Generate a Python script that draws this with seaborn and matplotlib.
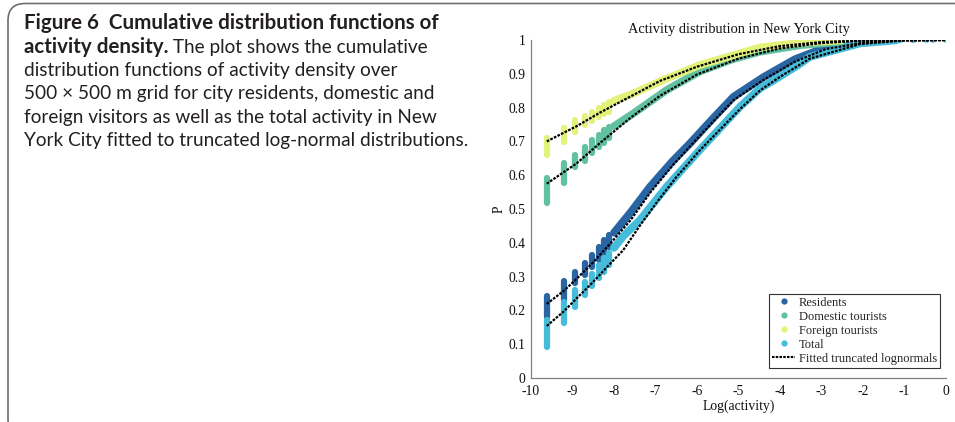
import numpy as np
import pandas as pd
import matplotlib
matplotlib.use("Agg")
import matplotlib.pyplot as plt
import seaborn as sns
from matplotlib.lines import Line2D
from matplotlib.patches import FancyBboxPatch
from matplotlib.transforms import IdentityTransform

# ---------------- data ----------------
SERIES = ["Residents", "Domestic tourists", "Foreign tourists", "Total"]
COLORS = ["#2a65a3", "#62c1a1", "#e3f27a", "#45bcd9"]

# discrete columns of the empirical CDFs at low activity
COL_X = [-9.62, -9.21, -8.93, -8.70, -8.52, -8.37, -8.23, -8.11]
RES_COL_LO = [0.180, 0.231, 0.280, 0.305, 0.329, 0.349, 0.370, 0.388]
RES_COL_HI = [0.243, 0.288, 0.315, 0.341, 0.364, 0.388, 0.408, 0.423]
DOM_COL_LO = [0.517, 0.576, 0.623, 0.643, 0.665, 0.684, 0.694, 0.709]
DOM_COL_HI = [0.591, 0.635, 0.660, 0.684, 0.704, 0.719, 0.734, 0.743]
FOR_COL_LO = [0.660, 0.699, 0.729, 0.749, 0.759, 0.771, 0.781, 0.788]
FOR_COL_HI = [0.709, 0.741, 0.763, 0.775, 0.788, 0.798, 0.808, 0.817]
TOT_COL_LO = [0.093, 0.162, 0.211, 0.246, 0.271, 0.296, 0.314, 0.334]
TOT_COL_HI = [0.171, 0.226, 0.260, 0.285, 0.308, 0.334, 0.355, 0.371]

# dense part of the empirical CDFs
RES_X = [-8.00, -7.60, -7.13, -6.60, -6.17, -5.60, -5.12, -4.40, -4.00, -3.64, -2.90, -2.10, -1.50]
RES_P = [0.430, 0.490, 0.566, 0.640, 0.694, 0.770, 0.832, 0.890, 0.918, 0.943, 0.978, 0.995, 0.999]
DOM_X = [-8.00, -7.53, -6.73, -5.93, -5.20, -4.50, -3.50, -2.50, -1.80]
DOM_P = [0.745, 0.783, 0.852, 0.907, 0.941, 0.965, 0.985, 0.995, 0.999]
FOR_X = [-8.00, -7.53, -6.73, -5.93, -4.48, -3.50, -2.50]
FOR_P = [0.820, 0.842, 0.886, 0.926, 0.978, 0.992, 0.999]
TOT_X = [-8.00, -7.78, -7.37, -6.73, -5.93, -4.96, -4.48, -4.08, -3.56, -3.28, -2.07, -1.20]
TOT_P = [0.385, 0.419, 0.468, 0.566, 0.675, 0.803, 0.857, 0.886, 0.926, 0.950, 0.990, 0.999]

# sparse points in the upper tail
RES_TAIL_X = [-1.80, -1.60, -1.40]
RES_TAIL_P = [0.997, 0.998, 0.999]
DOM_TAIL_X = [-2.30, -2.00, -1.80]
DOM_TAIL_P = [0.998, 0.999, 0.999]
FOR_TAIL_X = [-2.60, -2.30]
FOR_TAIL_P = [0.999, 1.000]
TOT_TAIL_X = [-1.90, -1.60, -1.40, -1.25, -1.10, -0.79, -0.47, -0.31, 0.00]
TOT_TAIL_P = [0.996, 0.997, 0.998, 0.998, 0.999, 0.999, 1.000, 1.000, 1.000]

# fitted truncated lognormals
FIT_FOR_X = [-9.62, -8.90, -8.34, -7.60, -6.89, -6.00, -5.00, -4.00, -3.00, -2.00, 0.00]
FIT_FOR_P = [0.700, 0.745, 0.785, 0.833, 0.879, 0.921, 0.958, 0.982, 0.994, 0.999, 1.000]
FIT_DOM_X = [-9.62, -8.90, -8.34, -7.60, -6.89, -6.00, -5.00, -4.00, -3.00, -2.00, 0.00]
FIT_DOM_P = [0.575, 0.635, 0.695, 0.770, 0.835, 0.898, 0.945, 0.975, 0.991, 0.998, 1.000]
FIT_RES_X = [-9.62, -9.21, -8.93, -8.52, -8.11, -7.60, -7.13, -6.60, -6.17, -5.60, -5.12, -4.40, -3.64, -2.90, -2.00, -1.00, 0.00]
FIT_RES_P = [0.219, 0.258, 0.290, 0.340, 0.395, 0.467, 0.548, 0.627, 0.685, 0.760, 0.822, 0.882, 0.936, 0.973, 0.992, 0.999, 1.000]
FIT_TOT_X = [-9.62, -9.21, -8.93, -8.52, -8.11, -7.78, -7.37, -6.93, -6.50, -5.93, -4.96, -4.48, -4.00, -3.28, -2.07, -1.00, 0.00]
FIT_TOT_P = [0.154, 0.197, 0.232, 0.282, 0.336, 0.378, 0.452, 0.526, 0.594, 0.674, 0.796, 0.851, 0.891, 0.945, 0.988, 0.999, 1.000]

X_TICKS = list(range(-10, 1))
Y_TICKS = [0, 0.1, 0.2, 0.3, 0.4, 0.5, 0.6, 0.7, 0.8, 0.9, 1]
Y_TICKLABELS = ["0", "0.1", "0.2", "0.3", "0.4", "0.5", "0.6", "0.7", "0.8", "0.9", "1"]

CAPTION_BOLD_1 = "Figure 6  Cumulative distribution functions of"
CAPTION_BOLD_2 = "activity density."
CAPTION_REST_2 = " The plot shows the cumulative"
CAPTION_LINES = [
    "distribution functions of activity density over",
    "500 \u00d7 500 m grid for city residents, domestic and",
    "foreign visitors as well as the total activity in New",
    "York City fitted to truncated log-normal distributions.",
]

# ---------------- figure ----------------
sns.set_theme(style="white")
plt.rcParams["font.family"] = ["Liberation Serif", "DejaVu Serif"]

W, H = 955, 422
fig = plt.figure(figsize=(W / 100, H / 100), dpi=100)
fig.patch.set_facecolor("white")

# rounded frame around the whole figure panel
frame = FancyBboxPatch((8, -14), 1000, H - 3.5 + 14, boxstyle="round,pad=0,rounding_size=17",
                       transform=IdentityTransform(), fill=False, edgecolor="#6d6e71",
                       linewidth=1.2, figure=fig)
fig.patches.append(frame)

ax = fig.add_axes([531 / W, 1 - 378 / H, 415 / W, 338 / H])
ax.set_facecolor("white")

col_lo = [RES_COL_LO, DOM_COL_LO, FOR_COL_LO, TOT_COL_LO]
col_hi = [RES_COL_HI, DOM_COL_HI, FOR_COL_HI, TOT_COL_HI]
band_x = [RES_X, DOM_X, FOR_X, TOT_X]
band_p = [RES_P, DOM_P, FOR_P, TOT_P]
tail_x = [RES_TAIL_X, DOM_TAIL_X, FOR_TAIL_X, TOT_TAIL_X]
tail_p = [RES_TAIL_P, DOM_TAIL_P, FOR_TAIL_P, TOT_TAIL_P]

for i, c in enumerate(COLORS):
    lc = ax.vlines(COL_X, col_lo[i], col_hi[i], colors=c, linewidth=4.5, zorder=2 + i)
    lc.set_capstyle("round")
    df = pd.DataFrame({"x": band_x[i], "p": band_p[i]})
    sns.lineplot(data=df, x="x", y="p", ax=ax, color=c, linewidth=5.6, sort=False,
                 estimator=None, solid_capstyle="round", solid_joinstyle="round", zorder=2 + i)
    tdf = pd.DataFrame({"x": tail_x[i], "p": tail_p[i]})
    sns.scatterplot(data=tdf, x="x", y="p", ax=ax, color=c, s=16, edgecolor="none",
                    linewidth=0, zorder=2 + i)

fit_x = [FIT_RES_X, FIT_DOM_X, FIT_FOR_X, FIT_TOT_X]
fit_p = [FIT_RES_P, FIT_DOM_P, FIT_FOR_P, FIT_TOT_P]
for fx, fp in zip(fit_x, fit_p):
    ax.plot(fx, fp, color="black", linewidth=1.6, linestyle=(0, (1.2, 0.6)), zorder=10)

ax.set_xlim(-10, 0)
ax.set_ylim(0, 1)
ax.set_xticks(X_TICKS)
ax.set_xticklabels([str(t) for t in X_TICKS])
ax.set_yticks(Y_TICKS)
ax.set_yticklabels(Y_TICKLABELS)
for s in ["top", "right"]:
    ax.spines[s].set_visible(False)
for s in ["left", "bottom"]:
    ax.spines[s].set_color("#808080")
    ax.spines[s].set_linewidth(0.9)
ax.tick_params(axis="both", direction="in", length=3.5, width=0.8, color="#808080",
               labelsize=9.8, labelcolor="#111111", pad=4)
ax.tick_params(axis="x", pad=5)

ax.set_title("Activity distribution in New York City", fontsize=10.4, color="#111111", pad=5)
ax.set_xlabel("Log(activity)", fontsize=9.8, color="#111111", labelpad=1)
ax.set_ylabel("P", fontsize=9.8, color="#111111", labelpad=2)

handles = [Line2D([], [], marker="o", linestyle="none", markersize=4.5, color=c,
                  markeredgewidth=0) for c in COLORS]
handles.append(Line2D([], [], color="black", linewidth=1.5, linestyle=(0, (1.2, 0.6))))
labels = SERIES + ["Fitted truncated lognormals"]
leg = ax.legend(handles, labels, loc="lower right", bbox_to_anchor=(0.9855, 0.0296),
                borderaxespad=0, fontsize=9, handlelength=1.8, handletextpad=0.3,
                labelspacing=0.16, borderpad=0.25, fancybox=False, framealpha=1)
leg.get_frame().set_edgecolor("#333333")
leg.get_frame().set_linewidth(0.8)
leg.set_zorder(20)

# ---------------- caption ----------------
cap_font = ["Lato", "DejaVu Sans"]
cap_size = 13.7
cap_bold_size = 14.8
cap_color = "#231f20"
x0 = 24 / W
base0 = 29.3
step = 23.35


def fy(px_from_top):
    return 1 - px_from_top / H


fig.text(x0, fy(base0), CAPTION_BOLD_1, family=cap_font, fontsize=cap_bold_size, weight="bold",
         color=cap_color, va="baseline", ha="left")
tb = fig.text(x0, fy(base0 + step), CAPTION_BOLD_2, family=cap_font, fontsize=cap_bold_size,
              weight="bold", color=cap_color, va="baseline", ha="left")
renderer = fig.canvas.get_renderer()
bb = tb.get_window_extent(renderer=renderer)
fig.text(bb.x1 / W, fy(base0 + step), CAPTION_REST_2, family=cap_font, fontsize=cap_size,
         color=cap_color, va="baseline", ha="left")
for k, line in enumerate(CAPTION_LINES):
    fig.text(x0, fy(base0 + step * (k + 2)), line, family=cap_font, fontsize=cap_size,
             color=cap_color, va="baseline", ha="left")

fig.savefig("out.png", dpi=100, facecolor="white")
